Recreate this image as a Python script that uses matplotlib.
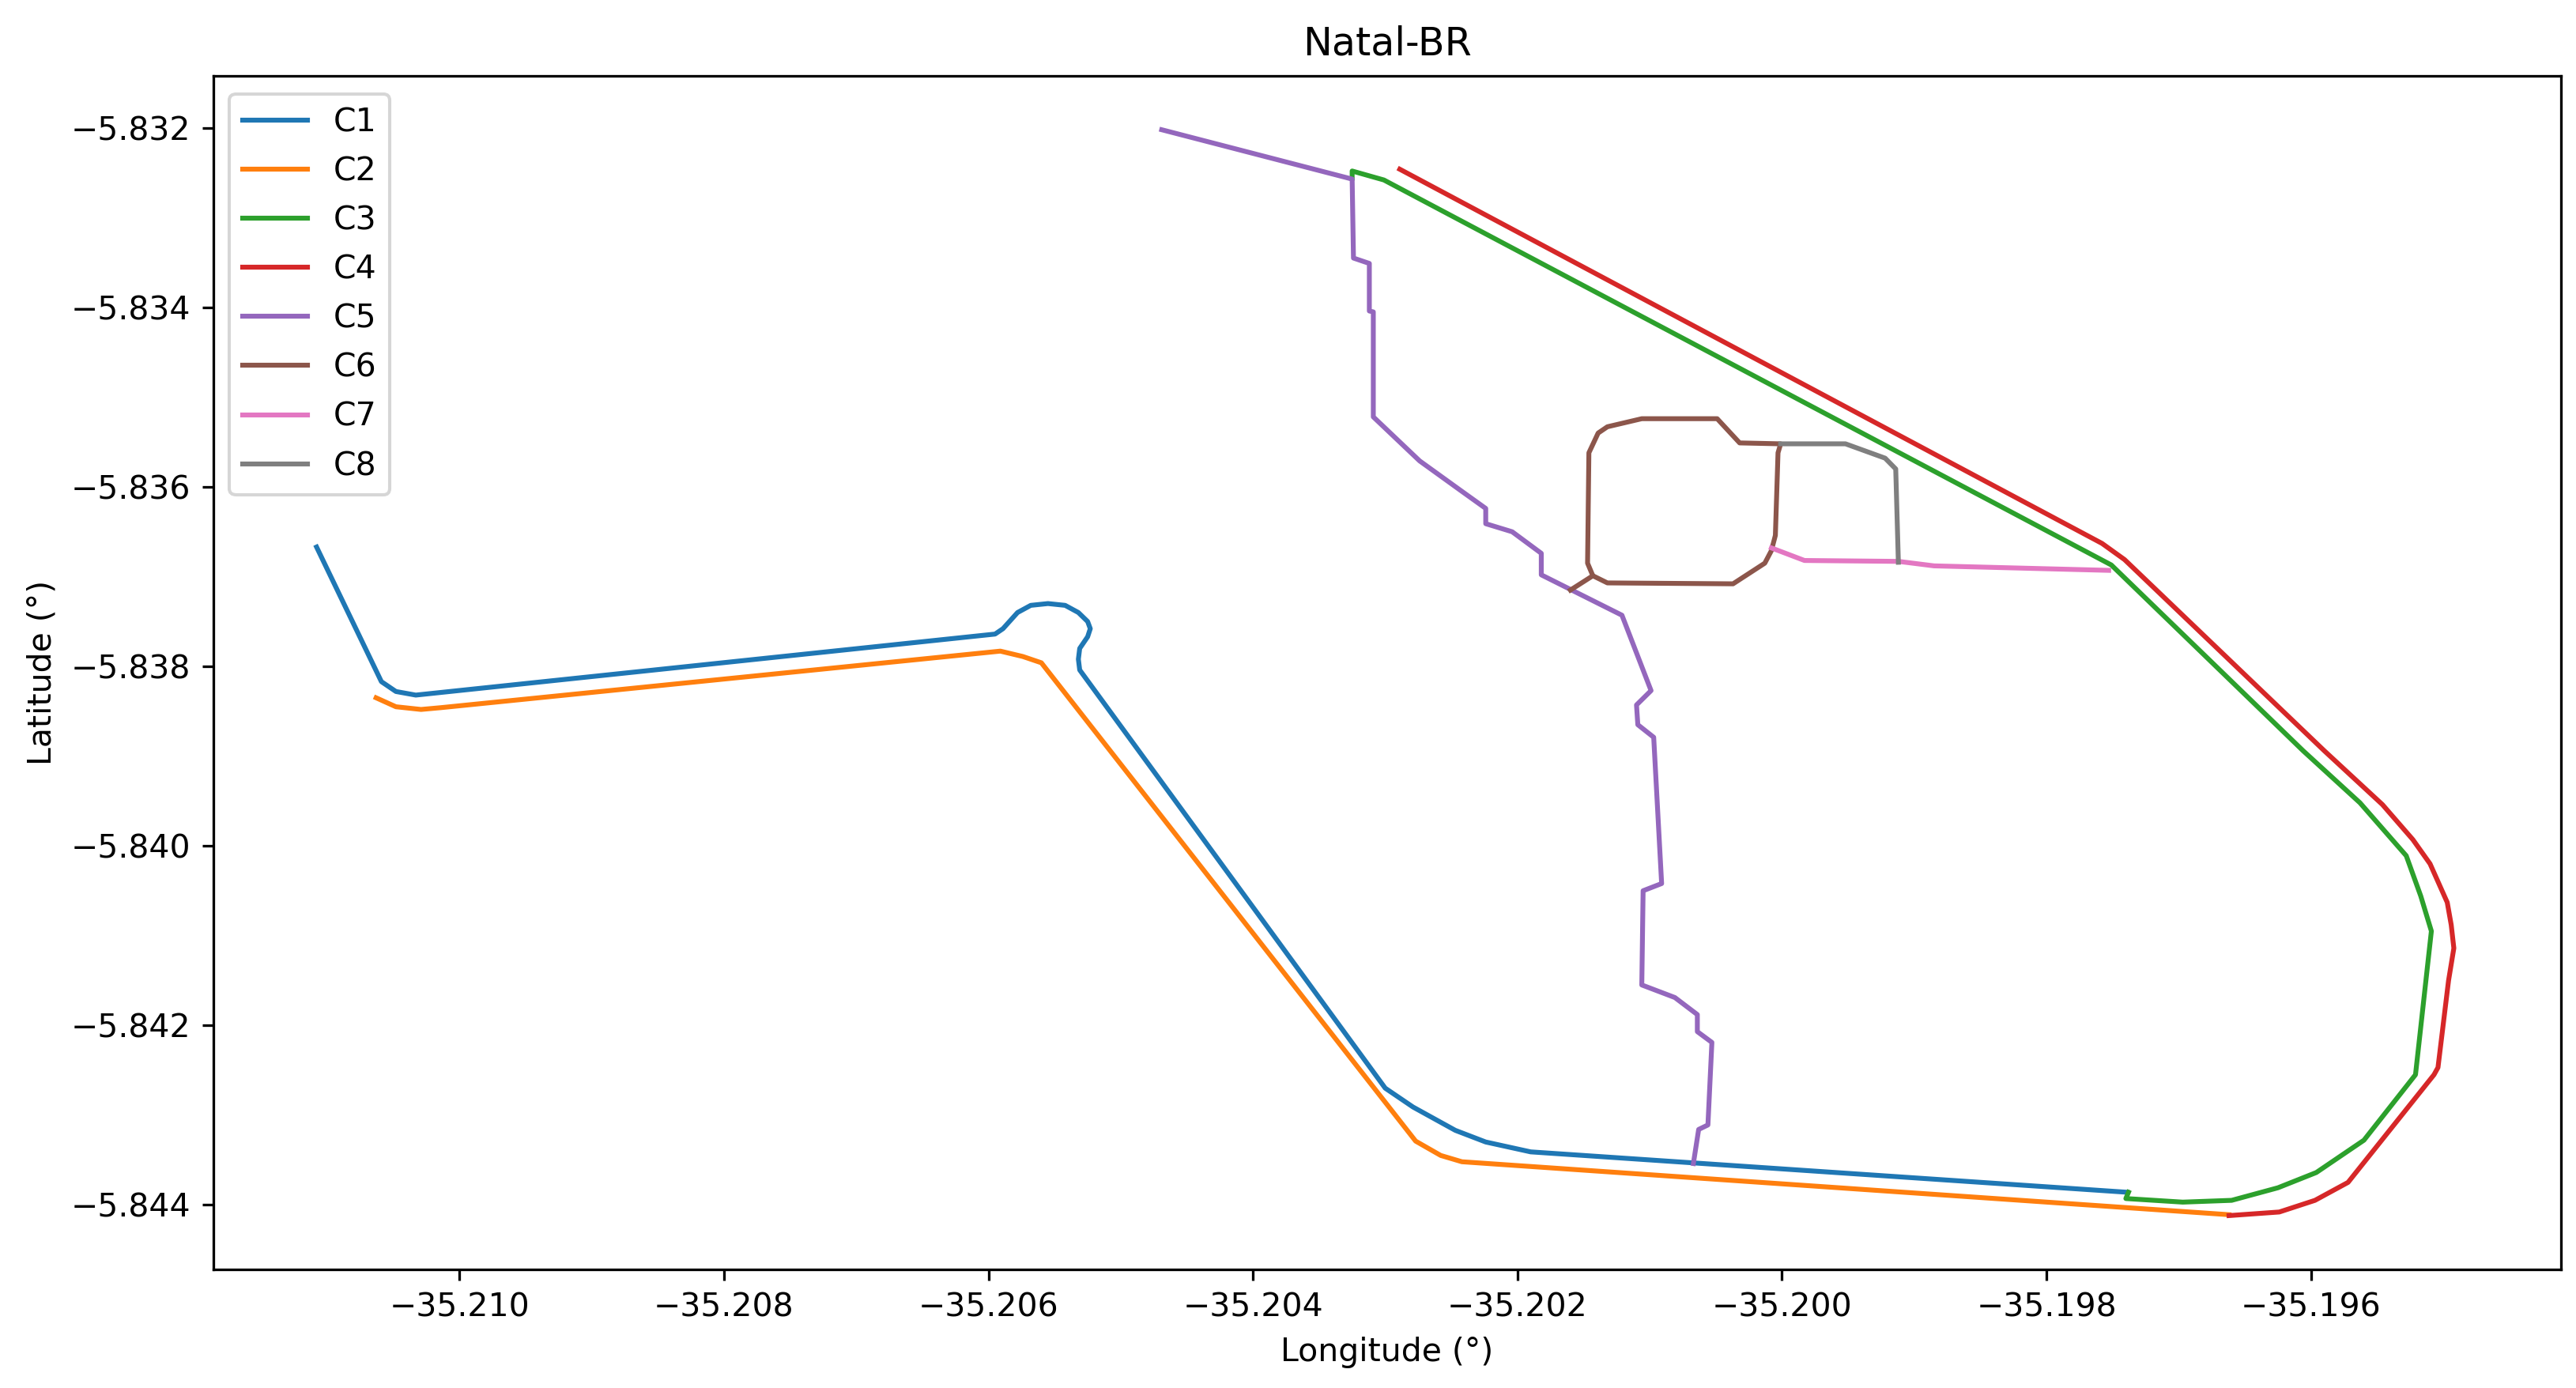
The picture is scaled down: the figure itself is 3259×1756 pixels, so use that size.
#!/usr/bin/python3

import matplotlib
matplotlib.use('Agg')
import matplotlib.pyplot as plt

c1_lon = [-35.21108, -35.21059, -35.21048, -35.21033, -35.20595, -35.20589, -35.20578, -35.20568, -35.20555,
          -35.20542, -35.20532, -35.20525, -35.20523, -35.20525, -35.20531, -35.20532, -35.20531, -35.20300,
          -35.20279, -35.20247, -35.20224, -35.20190, -35.19739]
c1_lat = [-5.83667, -5.83817, -5.83828, -5.83832, -5.83764, -5.83758, -5.83740, -5.83732, -5.83730,
          -5.83732, -5.83740, -5.83750, -5.83758, -5.83767, -5.83780, -5.83792, -5.83804, -5.84270,
          -5.84291, -5.84317, -5.84330, -5.84341, -5.84386]

c2_lon = [-35.21063, -35.21048, -35.21029, -35.21014, -35.20591, -35.20574, -35.20560, -35.20277, -35.20258,
          -35.20242, -35.19662]
c2_lat = [-5.83835, -5.83845, -5.83848, -5.83846, -5.83783, -5.83789, -5.83796, -5.84329, -5.84345,
          -5.84352, -5.84411]

c3_lon = [-35.20325, -35.20325, -35.20301, -35.19751, -35.19606, -35.19563, -35.19528, -35.19517, -35.19509,
          -35.19521, -35.19560, -35.19596, -35.19625, -35.19660, -35.19697, -35.19740, -35.19738]
c3_lat = [-5.83256, -5.83248, -5.83258, -5.83687, -5.83894, -5.83952, -5.84011, -5.84056, -5.84095,
          -5.84255, -5.84328, -5.84364, -5.84381, -5.84395, -5.84397, -5.84393, -5.84386]

c4_lon = [-35.20289, -35.19758, -35.19741, -35.19590, -35.19546, -35.19523, -35.19510, -35.19497, -35.19494,
          -35.19492, -35.19496, -35.19504, -35.19507, -35.19572, -35.19597, -35.19624, -35.19662]
c4_lat = [-5.83246, -5.83663, -5.83681, -5.83894, -5.83954, -5.83993, -5.84020, -5.84063, -5.84088,
          -5.84114, -5.84150, -5.84247, -5.84255, -5.84375, -5.84395, -5.84408, -5.84412]

c5_lon = [-35.20469, -35.20325, -35.20324, -35.20312, -35.20312, -35.20309, -35.20309, -35.20274, -35.20242,
          -35.20224, -35.20224, -35.20204, -35.20182, -35.20182, -35.20121, -35.20099, -35.20110, -35.20109,
          -35.20097, -35.20091, -35.20105, -35.20106, -35.20081, -35.20064, -35.20064, -35.20053, -35.20056,
          -35.20063, -35.20067]
c5_lat = [-5.83202, -5.83257, -5.83345, -5.83351, -5.83404, -5.83405, -5.83522, -5.83571, -5.83605,
          -5.83624, -5.83641, -5.83650, -5.83674, -5.83698, -5.83743, -5.83827, -5.83843, -5.83865,
          -5.83879, -5.84042, -5.84050, -5.84155, -5.84169, -5.84188, -5.84207, -5.84219, -5.84311,
          -5.84316, -5.84354]

c6_lon = [-35.20160, -35.20143, -35.20147, -35.20146, -35.20139, -35.20132, -35.20106, -35.20049, -35.20032,
          -35.20001, -35.20003, -35.20005, -35.20008, -35.20013, -35.20037, -35.20132, -35.20143]
c6_lat = [-5.83715, -5.83699, -5.83685, -5.83562, -5.83540, -5.83533, -5.83524, -5.83524, -5.83551,
          -5.83552, -5.83562, -5.83654, -5.83671, -5.83685, -5.83708, -5.83707, -5.83699]

c7_lon = [-35.20008, -35.19983, -35.19912, -35.19885, -35.19753]
c7_lat = [-5.83668, -5.83682, -5.83683, -5.83688, -5.83693]

c8_lon = [-35.20001, -35.19952, -35.19922, -35.19914, -35.19912]
c8_lat = [-5.83552, -5.83552, -5.83568, -5.83580, -5.83684]

nimet = ['C1', 'C2', 'C3', 'C4', 'C5', 'C6', 'C7', 'C8']
reitit = [(c1_lon, c1_lat), (c2_lon, c2_lat), (c3_lon, c3_lat), (c4_lon, c4_lat),
          (c5_lon, c5_lat), (c6_lon, c6_lat), (c7_lon, c7_lat), (c8_lon, c8_lat)]

dpi = 295
fig = plt.figure(figsize=(3259/dpi, 1756/dpi), dpi=dpi)
ax = fig.add_axes([270/3259, 1-1606/1756, (3240-270)/3259, (1606-96)/1756])

for nimi, (lon, lat) in zip(nimet, reitit):
    ax.plot(lon, lat, label=nimi)

ax.set_xlim(-35.21186, -35.19411)
ax.set_ylim(-5.84472, -5.83142)
ax.ticklabel_format(useOffset=False)
ax.set_title('Natal-BR', pad=6.5)
ax.set_xlabel('Longitude (°)')
ax.set_ylabel('Latitude (°)')
ax.legend(loc='upper left', bbox_to_anchor=(0.0, 0.9985), labelspacing=0.54)

fig.savefig('out.png', dpi=dpi)
